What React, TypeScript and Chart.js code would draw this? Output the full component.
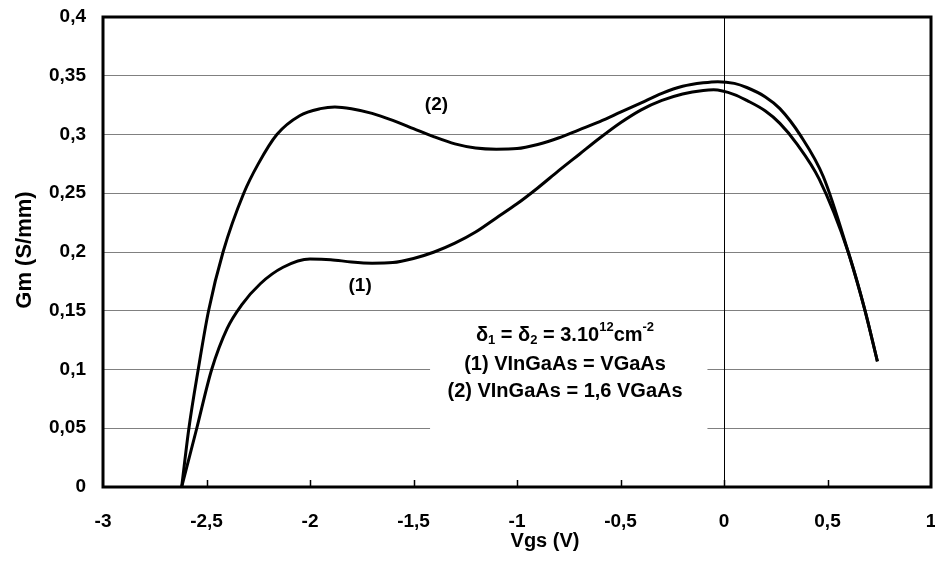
import React, { useEffect, useRef } from 'react';
import { Chart, registerables } from 'chart.js';

Chart.register(...registerables);

// Curve (1): VInGaAs = VGaAs
const vgs1 = [-2.62, -2.547, -2.475, -2.4, -2.33, -2.24, -2.13, -2.0, -1.9, -1.8, -1.7, -1.6, -1.5, -1.4, -1.3, -1.2, -1.1, -1.0, -0.9, -0.8, -0.7, -0.6, -0.5, -0.4, -0.3, -0.2, -0.1, -0.05, 0.05, 0.11, 0.2, 0.27, 0.35, 0.46, 0.6, 0.68, 0.741];
const gm1 = [0, 0.05, 0.1, 0.135, 0.155, 0.173, 0.187, 0.194, 0.1935, 0.1915, 0.1905, 0.191, 0.1945, 0.2, 0.2075, 0.217, 0.229, 0.241, 0.2545, 0.269, 0.283, 0.297, 0.31, 0.321, 0.329, 0.3345, 0.3375, 0.338, 0.334, 0.329, 0.32, 0.3095, 0.2925, 0.262, 0.2, 0.151, 0.107];

// Curve (2): VInGaAs = 1,6 VGaAs
const vgs2 = [-2.62, -2.585, -2.54, -2.49, -2.42, -2.32, -2.25, -2.16, -2.05, -1.95, -1.88, -1.8, -1.7, -1.6, -1.5, -1.4, -1.3, -1.2, -1.1, -1.0, -0.9, -0.8, -0.7, -0.6, -0.5, -0.4, -0.3, -0.2, -0.1, -0.03, 0.05, 0.11, 0.2, 0.27, 0.37, 0.48, 0.6, 0.68, 0.741];
const gm2 = [0, 0.05, 0.1, 0.15, 0.2, 0.25, 0.275, 0.3, 0.316, 0.322, 0.3235, 0.322, 0.318, 0.312, 0.305, 0.298, 0.292, 0.2885, 0.2875, 0.288, 0.2915, 0.297, 0.304, 0.311, 0.319, 0.327, 0.335, 0.341, 0.344, 0.345, 0.3435, 0.34, 0.332, 0.322, 0.299, 0.264, 0.2, 0.151, 0.107];

const xTickValues = [-3, -2.5, -2, -1.5, -1, -0.5, 0, 0.5, 1];
const xTickLabels = ['-3', '-2,5', '-2', '-1,5', '-1', '-0,5', '0', '0,5', '1'];
const yTickValues = [0, 0.05, 0.1, 0.15, 0.2, 0.25, 0.3, 0.35, 0.4];
const yTickLabels = ['0', '0,05', '0,1', '0,15', '0,2', '0,25', '0,3', '0,35', '0,4'];

const xTitle = 'Vgs (V)';
const yTitle = 'Gm (S/mm)';
const curveLabels = ['(1)', '(2)'];
const noteLine1 = [
  { t: 'δ', k: 'n' }, { t: '1', k: 'sub' }, { t: ' = ', k: 'n' },
  { t: 'δ', k: 'n' }, { t: '2', k: 'sub' }, { t: ' = 3.10', k: 'n' },
  { t: '12', k: 'sup' }, { t: 'cm', k: 'n' }, { t: '-2', k: 'sup' },
];
const noteLine2 = '(1) VInGaAs = VGaAs';
const noteLine3 = '(2) VInGaAs = 1,6 VGaAs';

const FONT = '"Liberation Sans", Arial, sans-serif';

const zeroPad = (s: any) => {
  s.paddingLeft = 0;
  s.paddingRight = 0;
  s.paddingTop = 0;
  s.paddingBottom = 0;
};

const decor = {
  id: 'decor',
  beforeDatasetsDraw(chart: any) {
    const { ctx, chartArea, scales } = chart;
    const x = scales.x, y = scales.y;
    ctx.save();
    // white box behind the note
    const bx0 = x.getPixelForValue(-1.42), bx1 = x.getPixelForValue(-0.08);
    const by0 = y.getPixelForValue(0.1438), by1 = y.getPixelForValue(0.0468);
    ctx.fillStyle = '#ffffff';
    ctx.fillRect(bx0, by0, bx1 - bx0, by1 - by0);
    // vertical line at Vgs = 0
    const zx = Math.round(x.getPixelForValue(0)) + 0.5;
    ctx.strokeStyle = '#000000';
    ctx.lineWidth = 1;
    ctx.beginPath();
    ctx.moveTo(zx, chartArea.top);
    ctx.lineTo(zx, chartArea.bottom);
    ctx.stroke();
    ctx.restore();
  },
  afterDatasetsDraw(chart: any) {
    const { ctx, chartArea, scales } = chart;
    const x = scales.x, y = scales.y;
    ctx.save();
    // frame
    ctx.strokeStyle = '#000000';
    ctx.lineWidth = 3;
    ctx.strokeRect(chartArea.left, chartArea.top, chartArea.right - chartArea.left, chartArea.bottom - chartArea.top);
    // inward tick marks on x axis
    ctx.lineWidth = 1.5;
    for (let i = 1; i < xTickValues.length - 1; i++) {
      const px = Math.round(x.getPixelForValue(xTickValues[i])) + 0.5;
      ctx.beginPath();
      ctx.moveTo(px, chartArea.bottom);
      ctx.lineTo(px, chartArea.bottom - 7);
      ctx.stroke();
    }
    ctx.fillStyle = '#000000';
    ctx.textAlign = 'center';
    ctx.textBaseline = 'middle';
    // curve labels
    ctx.font = `bold 19px ${FONT}`;
    ctx.fillText(curveLabels[0], x.getPixelForValue(-1.758), y.getPixelForValue(0.171));
    ctx.fillText(curveLabels[1], x.getPixelForValue(-1.389), y.getPixelForValue(0.325));
    // note
    const cx = x.getPixelForValue(-0.768);
    const big = `bold 20px ${FONT}`;
    const small = `bold 13px ${FONT}`;
    ctx.font = big;
    ctx.fillText(noteLine2, cx, y.getPixelForValue(0.1043));
    ctx.fillText(noteLine3, cx, y.getPixelForValue(0.0809));
    // line 1 with sub/superscripts
    const y1 = y.getPixelForValue(0.129);
    let total = 0;
    const widths = noteLine1.map((p) => {
      ctx.font = p.k === 'n' ? big : small;
      const w = ctx.measureText(p.t).width;
      total += w;
      return w;
    });
    let cur = cx - total / 2;
    ctx.textAlign = 'left';
    noteLine1.forEach((p, i) => {
      ctx.font = p.k === 'n' ? big : small;
      const dy = p.k === 'sub' ? 5 : p.k === 'sup' ? -8 : 0;
      ctx.fillText(p.t, cur, y1 + dy);
      cur += widths[i];
    });
    // axis titles
    ctx.textAlign = 'center';
    ctx.font = `bold 20px ${FONT}`;
    ctx.fillText(xTitle, 545, 541);
    ctx.translate(25, 250);
    ctx.rotate(-Math.PI / 2);
    ctx.font = `bold 22px ${FONT}`;
    ctx.fillText(yTitle, 0, 0);
    ctx.restore();
  },
};

export default function App() {
  const ref = useRef<HTMLCanvasElement | null>(null);
  useEffect(() => {
    if (!ref.current) return;
    const chart = new Chart(ref.current, {
      type: 'scatter',
      data: {
        datasets: [
          {
            label: curveLabels[0],
            data: vgs1.map((v, i) => ({ x: v, y: gm1[i] })),
            showLine: true,
            borderColor: '#000000',
            borderWidth: 3,
            pointRadius: 0,
            cubicInterpolationMode: 'monotone',
          },
          {
            label: curveLabels[1],
            data: vgs2.map((v, i) => ({ x: v, y: gm2[i] })),
            showLine: true,
            borderColor: '#000000',
            borderWidth: 3,
            pointRadius: 0,
            cubicInterpolationMode: 'monotone',
          },
        ],
      },
      options: {
        animation: false,
        responsive: false,
        layout: { padding: { top: 17, right: 4, left: 0, bottom: 0 } },
        plugins: { legend: { display: false }, tooltip: { enabled: false } },
        scales: {
          x: {
            type: 'linear',
            min: -3,
            max: 1,
            afterFit: (s: any) => { s.height = 86; zeroPad(s); },
            afterBuildTicks: (s: any) => { s.ticks = xTickValues.map((v) => ({ value: v })); },
            grid: { display: false, drawTicks: false },
            border: { display: false },
            ticks: {
              padding: 23,
              color: '#000000',
              font: { family: FONT, size: 19, weight: 'bold' },
              callback: (_v: any, i: number) => xTickLabels[i],
              maxRotation: 0,
              autoSkip: false,
            },
          },
          y: {
            type: 'linear',
            min: 0,
            max: 0.4,
            afterFit: (s: any) => { s.width = 103; zeroPad(s); },
            afterBuildTicks: (s: any) => { s.ticks = yTickValues.map((v) => ({ value: v })); },
            grid: { color: '#808080', lineWidth: 1, drawTicks: false },
            border: { display: false },
            ticks: {
              padding: 17,
              color: '#000000',
              font: { family: FONT, size: 19, weight: 'bold' },
              callback: (_v: any, i: number) => yTickLabels[i],
              autoSkip: false,
            },
          },
        },
      },
      plugins: [decor],
    } as any);
    return () => chart.destroy();
  }, []);
  return (
    <div style={{ position: 'absolute', left: 0, top: 0, width: 935, height: 573, background: '#fff' }}>
      <canvas ref={ref} width={935} height={573} />
    </div>
  );
}
